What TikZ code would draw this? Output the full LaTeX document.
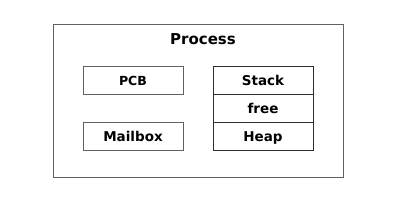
\documentclass[tikz,border=0pt]{standalone}
\usepackage{fontspec}
\setmainfont{DejaVu Sans}
\usetikzlibrary{positioning}
\begin{document}
\begin{tikzpicture}[x=1pt,y=1pt,
  frame/.style={draw=black!62, line width=1pt},
  part/.style={frame, minimum width=100pt, minimum height=28pt, inner sep=0pt, outer sep=0pt, text height=10pt, text depth=0pt, font=\bfseries\fontsize{13.5}{15}\selectfont},
  memory/.style={part, draw=black!82},
  title/.style={font=\bfseries\fontsize{15}{17}\selectfont, inner sep=0pt, text height=11pt, text depth=0pt}]
\useasboundingbox (0,0) rectangle (409,211);
\fill[white] (0,0) rectangle (409,211);
\node[frame, minimum width=290pt, minimum height=153pt, inner sep=0pt, outer sep=0pt] (proc) at (198,109.5) {};
\node[title] (ptitle) at (203,172) {Process};
\node[part] (pcb) at (133,130) {\fontsize{12.5}{14}\selectfont PCB};
\node[part] (mail) at (133,74) {Mailbox};
\node[memory] (stack) at (263,130) {Stack};
\node[memory, below=0pt of stack] (free) {free};
\node[memory, below=0pt of free] (heap) {Heap};
\end{tikzpicture}
\end{document}
